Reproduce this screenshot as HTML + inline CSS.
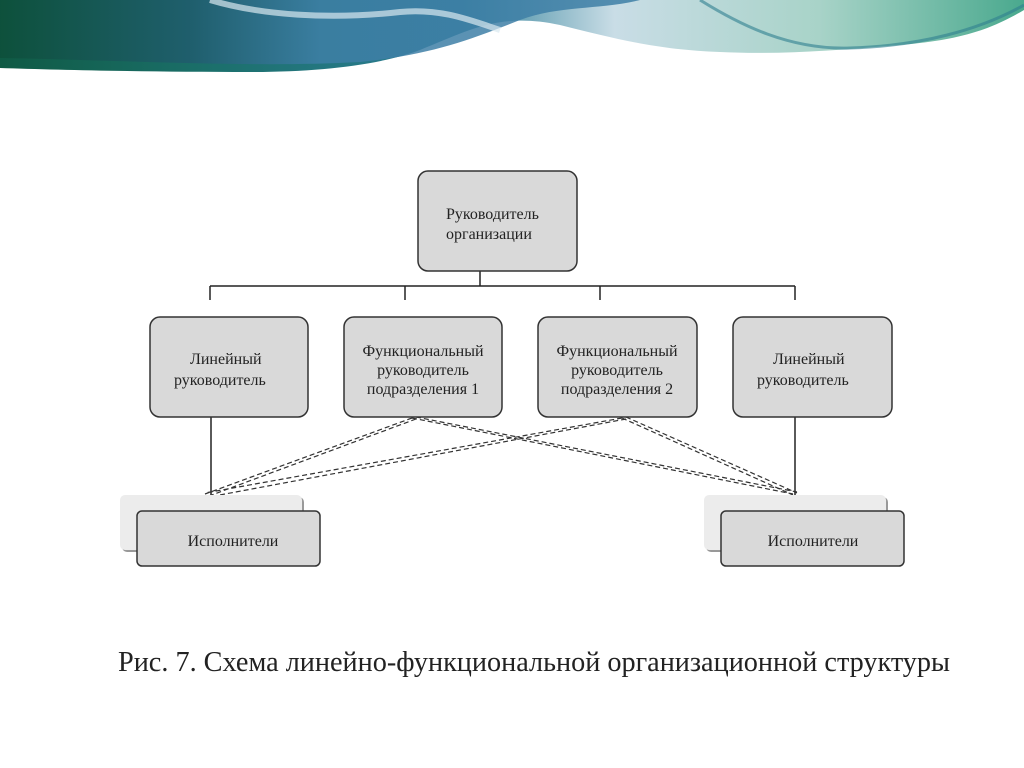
<!DOCTYPE html>
<html><head><meta charset="utf-8"><style>
html,body{margin:0;padding:0;background:#fff;}
svg{display:block}
text{font-family:"Liberation Serif",serif;fill:#222}
</style></head><body>
<svg width="1024" height="768" viewBox="0 0 1024 768" xmlns="http://www.w3.org/2000/svg">
<defs>
<linearGradient id="g1" x1="0" y1="0" x2="1" y2="0">
<stop offset="0" stop-color="#0f5a44"/><stop offset="0.2" stop-color="#1b6f6a"/><stop offset="0.45" stop-color="#2e7f98"/><stop offset="0.6" stop-color="#c9dde6"/><stop offset="0.8" stop-color="#a8d3c8"/><stop offset="1" stop-color="#4aa98e"/>
</linearGradient>
<linearGradient id="g2" x1="0" y1="0" x2="1" y2="0">
<stop offset="0" stop-color="#0d4f3a"/><stop offset="0.3" stop-color="#205c6e"/><stop offset="0.5" stop-color="#3e7fa6"/><stop offset="1" stop-color="#3e7fa6"/>
</linearGradient>
</defs>
<path d="M0,0 H1024 V10 C990,30 960,40 900,45 C840,50 780,55 720,52 C660,50 620,40 560,25 C500,12 470,30 420,50 C380,65 320,72 250,72 C150,72 60,70 0,68 Z" fill="url(#g1)"/>
<path d="M0,0 H640 C600,10 560,5 520,20 C470,40 430,55 360,62 C250,68 120,60 0,58 Z" fill="url(#g2)" opacity="0.85"/>
<path d="M210,0 C260,15 330,20 400,12 C440,8 470,20 500,30" stroke="#d8e8ef" stroke-width="6" fill="none" opacity="0.7"/>
<path d="M700,0 C740,25 790,50 850,48 C920,46 980,30 1024,5" stroke="#2f7f8f" stroke-width="3" fill="none" opacity="0.6"/>

<g stroke="#222" stroke-width="1.5" fill="none">
<line x1="480" y1="271" x2="480" y2="286"/>
<line x1="210" y1="286" x2="795" y2="286"/>
<line x1="210" y1="286" x2="210" y2="300"/>
<line x1="405" y1="286" x2="405" y2="300"/>
<line x1="600" y1="286" x2="600" y2="300"/>
<line x1="795" y1="286" x2="795" y2="300"/>
<line x1="211" y1="417" x2="211" y2="495"/>
<line x1="795" y1="417" x2="795" y2="495"/>
</g>
<g stroke="#333" stroke-width="1.2" stroke-dasharray="5,3" fill="none">
<line x1="412" y1="418" x2="205" y2="494"/>
<line x1="416" y1="419" x2="209" y2="496"/>
<line x1="412" y1="418" x2="793" y2="494"/>
<line x1="416" y1="417" x2="797" y2="492"/>
<line x1="622" y1="418" x2="205" y2="493"/>
<line x1="626" y1="419" x2="209" y2="497"/>
<line x1="622" y1="418" x2="793" y2="495"/>
<line x1="626" y1="417" x2="797" y2="493"/>
</g>
<g stroke="#333" stroke-width="1.5" fill="#d9d9d9">
<rect x="418" y="171" width="159" height="100" rx="10"/>
<rect x="150" y="317" width="158" height="100" rx="10"/>
<rect x="344" y="317" width="158" height="100" rx="10"/>
<rect x="538" y="317" width="159" height="100" rx="10"/>
<rect x="733" y="317" width="159" height="100" rx="10"/>
</g>
<rect x="122" y="497" width="182" height="55" rx="5" fill="#999"/>
<rect x="120" y="495" width="182" height="55" rx="5" fill="#ececec"/>
<rect x="706" y="497" width="182" height="55" rx="5" fill="#999"/>
<rect x="704" y="495" width="182" height="55" rx="5" fill="#ececec"/>
<g stroke="#333" stroke-width="1.5" fill="#d9d9d9">
<rect x="137" y="511" width="183" height="55" rx="5"/>
<rect x="721" y="511" width="183" height="55" rx="5"/>
</g>
<g font-size="16">
<text x="446" y="219">Руководитель</text>
<text x="446" y="239">организации</text>
<text x="190" y="364">Линейный</text>
<text x="174" y="385">руководитель</text>
<text x="423" y="356" text-anchor="middle">Функциональный</text>
<text x="423" y="375" text-anchor="middle">руководитель</text>
<text x="423" y="394" text-anchor="middle">подразделения  1</text>
<text x="617" y="356" text-anchor="middle">Функциональный</text>
<text x="617" y="375" text-anchor="middle">руководитель</text>
<text x="617" y="394" text-anchor="middle">подразделения 2</text>
<text x="773" y="364">Линейный</text>
<text x="757" y="385">руководитель</text>
<text x="233" y="546" text-anchor="middle">Исполнители</text>
<text x="813" y="546" text-anchor="middle">Исполнители</text>
</g>
<text x="534" y="671" font-size="28" text-anchor="middle" textLength="832" lengthAdjust="spacingAndGlyphs">Рис. 7. Схема линейно-функциональной организационной структуры</text>
</svg>
</body></html>
